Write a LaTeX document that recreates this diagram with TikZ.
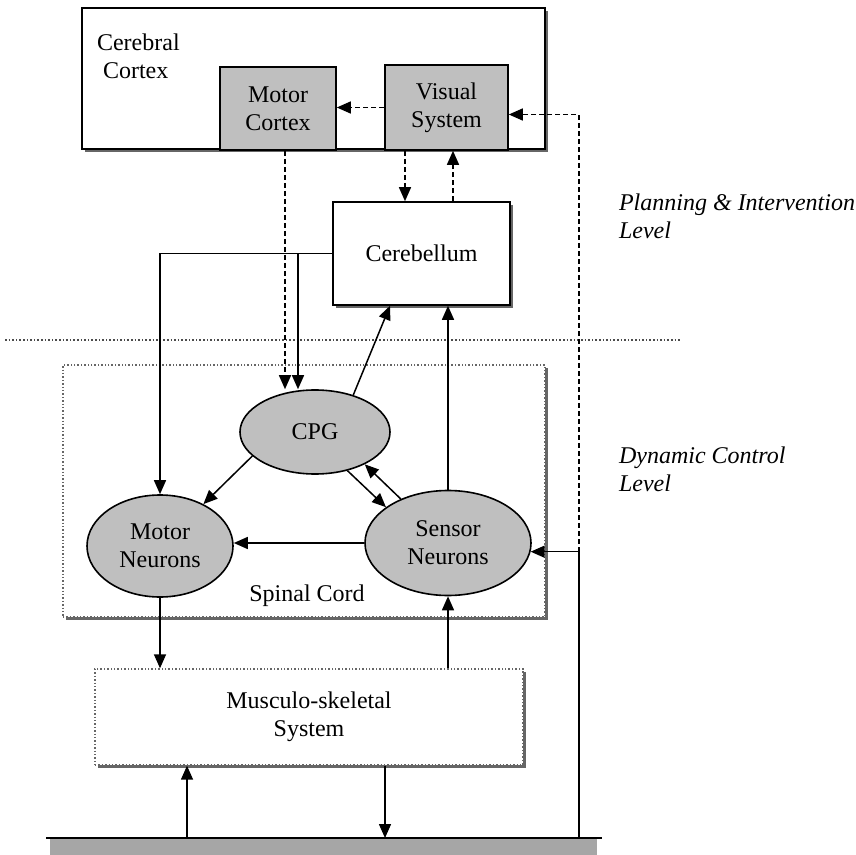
\documentclass[tikz,border=0pt]{standalone}
\usepackage{fontspec}
\setmainfont{Liberation Serif}
\usetikzlibrary{shapes,arrows.meta,shadows,calc,positioning}

\begin{document}
\begin{tikzpicture}[x=0.5pt,y=-0.5pt,>={Triangle[length=7pt,width=6pt]},font=\fontsize{12}{14}\selectfont]
             \tikzstyle{wire} = [draw,line width=0.75pt]
             \tikzstyle{dwire} = [wire,dash pattern=on 2.5pt off 1.5pt]
             \tikzstyle{box} = [draw,line width=0.8pt,fill=white,inner sep=0pt,align=center]
             \tikzstyle{greybox} = [box,fill=black!25]
             \tikzstyle{thinbox} = [draw=black!60,densely dotted,line width=0.7pt,fill=white,inner sep=0pt,align=center]
             \tikzstyle{neuron} = [ellipse,draw,line width=0.8pt,fill=black!25,inner sep=0pt,align=center]
             \tikzstyle{boxshadow} = [drop shadow={shadow xshift=1.5pt,shadow yshift=-1.5pt,fill=black!60,opacity=1}]
             \tikzstyle{level} = [anchor=west,align=left,font=\fontsize{12}{14}\selectfont\itshape]
		\useasboundingbox (0,0) rectangle (856,855);
		% Level border
		\draw[densely dotted,line width=0.8pt,black!70] (5,340) -- (680,340);
		% Brain
		\node[box,boxshadow,minimum width=231.5pt,minimum height=70.5pt] (cortex) at (313.5,78.5) {};
		\node[anchor=west,align=left] (cortexlbl) at (90,56) {Cerebral\\\hspace*{3pt}Cortex};
		\node[greybox,minimum width=58pt,minimum height=41.5pt] (motorcx) at (278,108.5) {Motor\\Cortex};
		\node[greybox,minimum width=61.5pt,minimum height=42.5pt] (visual) at (446.5,107.5) {Visual\\System};
		\node[box,boxshadow,minimum width=88.5pt,minimum height=51.5pt] (cereb) at (421.5,253.5) {Cerebellum};
		% Spinal cord
		\node[thinbox,boxshadow,minimum width=241pt,minimum height=126pt] (spinal) at (304,491) {};
		\node (spinallbl) at (307,596) {Spinal Cord};
		\node[neuron,minimum width=75pt,minimum height=42pt] (cpg) at (315,432) {CPG};
		\node[neuron,minimum width=73pt,minimum height=51pt] (motorn) at (160,546) {Motor\\Neurons};
		\node[neuron,minimum width=83pt,minimum height=52.5pt] (sensorn) at (448,543) {Sensor\\Neurons};
		% Body and ground
		\node[thinbox,boxshadow,minimum width=214pt,minimum height=48pt] (muscle) at (309,717) {Musculo-skeletal\\System};
		\fill[black!35] (50,838) rectangle (597,855);
		\coordinate (gnd) at (46,838);
		\draw[line width=0.9pt] (gnd) -- (602,838);
		% Levels
		\node[level] (planlbl) at (612,216) {Planning \& Intervention\\Level};
		\node[level] (dynlbl) at (612,469) {Dynamic Control\\Level};
		% Columns
		\coordinate (cB) at (285,0);
		\coordinate (cC) at (298,0);
		\coordinate (cD) at (405,0);
		\coordinate (cE) at (453,0);
		\coordinate (cJ) at (390,0);
		\coordinate (cH) at (187,0);
		\coordinate (cI) at (385,0);
		\coordinate (cR) at (579,0);
		% Brain links
		\draw[dwire,->] (visual.west) -- (visual.west -| motorcx.east);
		\draw[dwire,->] (motorcx.south -| cB) -- (cpg.north -| cB);
		\draw[dwire,->] (visual.south -| cD) -- (cereb.north -| cD);
		\draw[dwire,->] (cereb.north -| cE) -- (visual.south -| cE);
		\draw[wire,->] (cereb.west) -| (motorn.north);
		\draw[wire,->] (cereb.west -| cC) -- (cpg.north -| cC);
		\draw[wire,->] (cpg.44) -- (cereb.south -| cJ);
		\draw[wire,->] (sensorn.north) -- (cereb.south -| sensorn.north);
		% Spinal links
		\draw[wire,->] (cpg.201) -- (motorn.44);
		\draw[wire,->] (cpg.-50) -- (sensorn.150);
		\draw[wire,->] (sensorn.137) -- (cpg.-33);
		\draw[wire,->] (sensorn.west) -- (sensorn.west -| motorn.east);
		% Body links
		\draw[wire,->] (motorn.south) -- (muscle.north -| motorn.south);
		\draw[wire,->] (muscle.north -| sensorn.south) -- (sensorn.south);
		\draw[wire,->] (muscle.south -| cI) -- (gnd -| cI);
		\draw[wire,->] (gnd -| cH) -- (muscle.south -| cH);
		% Feedback
		\coordinate (jR) at (sensorn.-6 -| cR);
		\draw[wire,->] (gnd -| cR) |- (sensorn.-6);
		\draw[dwire,->] (jR) |- ([yshift=-3.5pt]visual.east);
		\end{tikzpicture}
\end{document}
